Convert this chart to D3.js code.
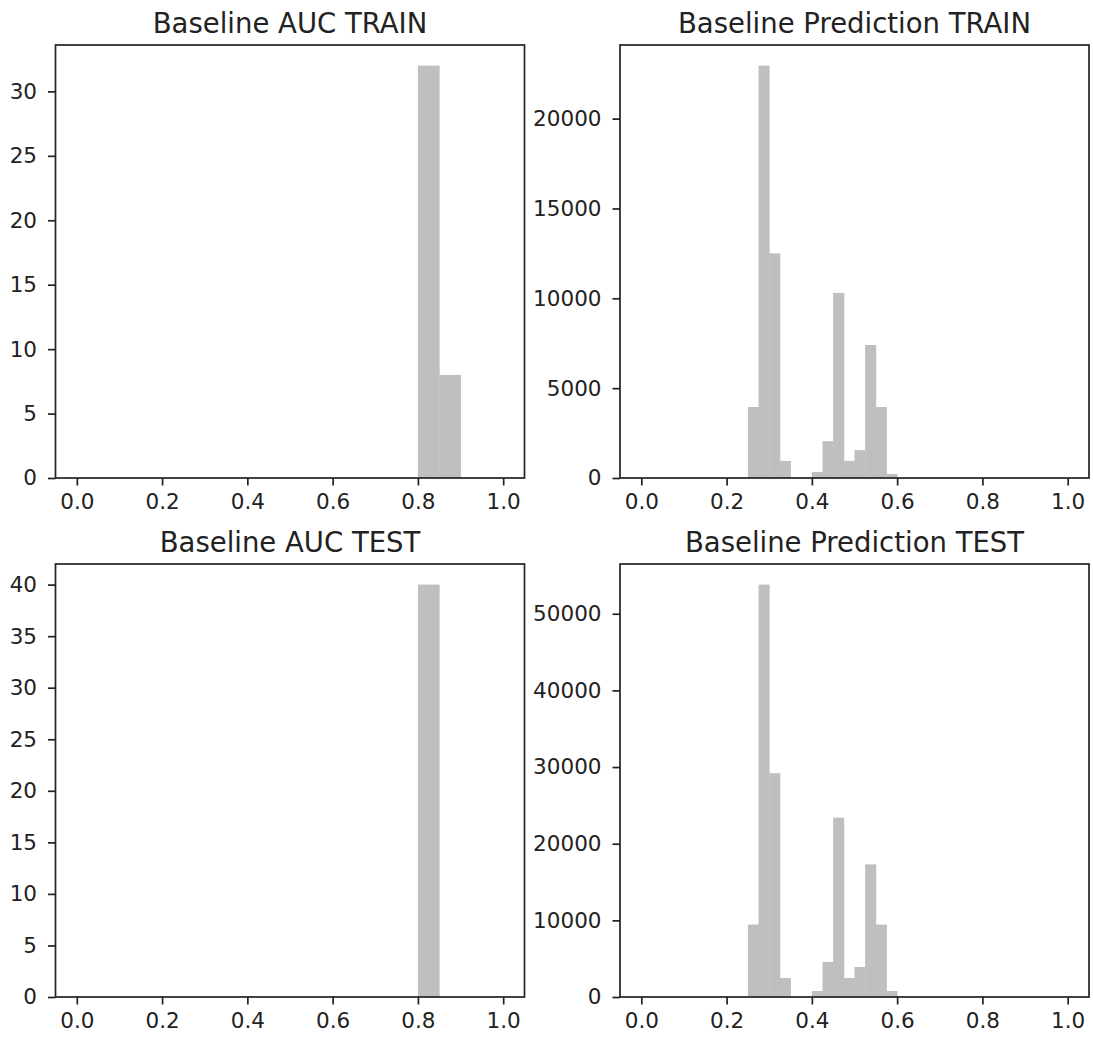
<!DOCTYPE html>
<html>
<head>
<meta charset="utf-8">
<script src="https://cdn.jsdelivr.net/npm/d3@7"></script>
<style>
  body { margin: 0; background: #fff; }
  svg text { font-family: "DejaVu Sans", sans-serif; fill: #222; }
</style>
</head>
<body>
<div id="container"></div>
<script>
// bin left edges (width 0.05) for the AUC histograms
const aucBinStarts = [0.00,0.05,0.10,0.15,0.20,0.25,0.30,0.35,0.40,0.45,
                      0.50,0.55,0.60,0.65,0.70,0.75,0.80,0.85,0.90,0.95];
const aucBinWidth = 0.05;
const aucTrainCounts = [0,0,0,0,0,0,0,0,0,0, 0,0,0,0,0,0,32,8,0,0];
const aucTestCounts  = [0,0,0,0,0,0,0,0,0,0, 0,0,0,0,0,0,40,0,0,0];

// bin left edges (width 0.025) for the prediction histograms
const predBinStarts = [0.000,0.025,0.050,0.075,0.100,0.125,0.150,0.175,0.200,0.225,
                       0.250,0.275,0.300,0.325,0.350,0.375,0.400,0.425,0.450,0.475,
                       0.500,0.525,0.550,0.575,0.600,0.625,0.650,0.675,0.700,0.725,
                       0.750,0.775,0.800,0.825,0.850,0.875,0.900,0.925,0.950,0.975];
const predBinWidth = 0.025;
const predTrainCounts = [0,0,0,0,0,0,0,0,0,0,
                         3950,22950,12500,950,0,0,330,2050,10300,950,
                         1550,7400,3950,220,0,0,0,0,0,0,
                         0,0,0,0,0,0,0,0,0,0];
const predTestCounts  = [0,0,0,0,0,0,0,0,0,0,
                         9450,53800,29200,2480,0,0,780,4570,23400,2480,
                         3920,17300,9450,780,0,0,0,0,0,0,
                         0,0,0,0,0,0,0,0,0,0];

const xTicks = [0.0, 0.2, 0.4, 0.6, 0.8, 1.0];
const aucTrainTicks = [0, 5, 10, 15, 20, 25, 30];
const aucTestTicks = [0, 5, 10, 15, 20, 25, 30, 35, 40];
const predTrainTicks = [0, 5000, 10000, 15000, 20000];
const predTestTicks = [0, 10000, 20000, 30000, 40000, 50000];

const titles = ["Baseline AUC TRAIN", "Baseline Prediction TRAIN",
                "Baseline AUC TEST", "Baseline Prediction TEST"];

const width = 1093;
const height = 1039;
const barColor = "#bfbfbf";
const ink = "#222";

const svg = d3.select("div#container").append("svg")
    .attr("width", width)
    .attr("height", height);

// box of each axes: left, right, top, bottom
const cols = [[55.5, 524.5], [620, 1089]];
const rows = [[45, 478], [564, 997]];

function drawPanel(box, starts, binW, counts, yTicks, title){
    const [x0, x1, y0, y1] = box;
    const xScale = d3.scaleLinear().domain([-0.05, 1.05]).range([x0, x1]);
    const yScale = d3.scaleLinear().domain([0, d3.max(counts) * 1.05]).range([y1, y0]);

    const g = svg.append("g");

    g.selectAll("rect.bar")
        .data(counts)
        .enter().append("rect")
        .attr("class", "bar")
        .attr("x", (d, i) => xScale(starts[i]))
        .attr("width", (d, i) => xScale(starts[i] + binW) - xScale(starts[i]) + 0.4) // small overlap, no seams
        .attr("y", d => yScale(d))
        .attr("height", d => yScale(0) - yScale(d))
        .attr("fill", barColor);

    const xaxis = d3.axisBottom(xScale)
        .tickValues(xTicks)
        .tickFormat(d3.format(".1f"))
        .tickSize(7.5)
        .tickPadding(8);
    const yaxis = d3.axisLeft(yScale)
        .tickValues(yTicks)
        .tickFormat(d3.format("d"))
        .tickSize(7.5)
        .tickPadding(11);

    const gx = g.append("g")
        .attr("transform", "translate(0," + y1 + ")")
        .call(xaxis);
    const gy = g.append("g")
        .attr("transform", "translate(" + x0 + ",0)")
        .call(yaxis);

    [gx, gy].forEach(a => {
        a.select(".domain").remove();
        a.selectAll("line").attr("stroke", ink).attr("stroke-width", 1.7);
        a.selectAll("text").style("font-size", "21.5px")
            .style("font-family", "'DejaVu Sans', sans-serif").attr("fill", ink);
    });

    // frame
    g.append("rect")
        .attr("x", x0).attr("y", y0)
        .attr("width", x1 - x0).attr("height", y1 - y0)
        .attr("fill", "none")
        .attr("stroke", ink)
        .attr("stroke-width", 1.7);

    g.append("text")
        .attr("x", (x0 + x1) / 2)
        .attr("y", y0 - 12)
        .attr("text-anchor", "middle")
        .style("font-size", "27.5px")
        .text(title);
}

drawPanel([cols[0][0], cols[0][1], rows[0][0], rows[0][1]], aucBinStarts, aucBinWidth, aucTrainCounts, aucTrainTicks, titles[0]);
drawPanel([cols[1][0], cols[1][1], rows[0][0], rows[0][1]], predBinStarts, predBinWidth, predTrainCounts, predTrainTicks, titles[1]);
drawPanel([cols[0][0], cols[0][1], rows[1][0], rows[1][1]], aucBinStarts, aucBinWidth, aucTestCounts, aucTestTicks, titles[2]);
drawPanel([cols[1][0], cols[1][1], rows[1][0], rows[1][1]], predBinStarts, predBinWidth, predTestCounts, predTestTicks, titles[3]);
</script>
</body>
</html>
